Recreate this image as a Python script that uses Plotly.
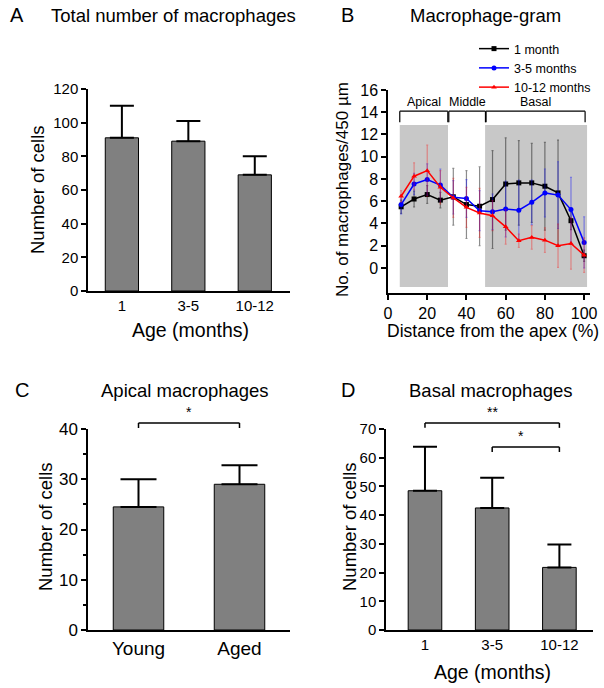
import plotly.graph_objects as go

# panel A - total macrophages
age_groups = ["1", "3-5", "10-12"]
total_mean = [91, 89, 69]
total_err = [19, 12, 11]

# panel B - macrophage-gram (distance from apex, %)
distance = [6.7, 13.3, 20, 26.7, 33.3, 40, 46.7, 53.3, 60, 66.7, 73.3, 80, 86.7, 93.3, 100]
gram_1m = [5.5, 6.2, 6.6, 6.1, 6.4, 5.7, 5.55, 6.15, 7.55, 7.65, 7.65, 7.35, 6.75, 4.25, 1.1]
gram_1m_err = [0.6, 0.7, 0.8, 0.7, 2.55, 3.05, 3.55, 4.4, 4.15, 3.8, 3.55, 3.95, 4.75, 0.8, 0.5]
gram_35m = [5.7, 7.55, 7.95, 7.45, 6.35, 6.25, 5.15, 5.05, 5.3, 5.2, 5.9, 6.75, 6.55, 5.25, 2.3]
gram_35m_err = [0.85, 0.95, 1.4, 1.45, 1.5, 1.7, 1.8, 1.6, 2.5, 2.7, 2.0, 2.15, 3.0, 2.9, 2.3]
gram_1012m = [6.45, 8.25, 8.75, 7.25, 6.3, 5.45, 4.95, 4.7, 3.7, 2.45, 2.75, 2.5, 2.0, 2.2, 1.15]
gram_1012m_err = [0.5, 1.2, 2.3, 1.5, 1.75, 1.8, 2.2, 1.35, 1.55, 0.6, 1.05, 1.1, 1.95, 2.3, 1.55]
regions = ["Apical", "Middle", "Basal"]
region_start = [6, 31, 50]
region_end = [30.5, 49.7, 100.5]
shade_x = [(6, 30.6), (49.5, 101.5)]

# panel C - apical macrophages
apical_groups = ["Young", "Aged"]
apical_mean = [24.5, 29]
apical_err = [5.5, 3.8]

# panel D - basal macrophages
basal_mean = [48.5, 42.5, 21.8]
basal_err = [15.3, 10.5, 8.0]

FONT = "Liberation Sans, Arial, sans-serif"
W, H = 604, 688


def px_x(p):
    return p / W


def px_y(p):
    return 1 - p / H


fig = go.Figure()

bar_style = dict(marker=dict(color="#808080", line=dict(color="black", width=1)),
                 width=0.5, showlegend=False, hoverinfo="skip")


def up_err(vals, w):
    return dict(type="data", array=vals, arrayminus=[0] * len(vals), symmetric=False,
                color="black", thickness=2, width=w)


fig.add_trace(go.Bar(x=age_groups, y=total_mean, error_y=up_err(total_err, 12),
                     xaxis="x", yaxis="y", **bar_style))
fig.add_trace(go.Bar(x=apical_groups, y=apical_mean, error_y=up_err(apical_err, 18),
                     xaxis="x3", yaxis="y3", **bar_style))
fig.add_trace(go.Bar(x=age_groups, y=basal_mean, error_y=up_err(basal_err, 12),
                     xaxis="x4", yaxis="y4", **bar_style))

series = [
    ("1 month", gram_1m, gram_1m_err, "black", "rgba(0,0,0,0.45)", "square"),
    ("3-5 months", gram_35m, gram_35m_err, "blue", "rgba(0,0,255,0.4)", "circle"),
    ("10-12 months", gram_1012m, gram_1012m_err, "red", "rgba(255,0,0,0.35)", "triangle-up"),
]
for name, vals, errs, col, ecol, sym in series:
    fig.add_trace(go.Scatter(
        x=distance, y=vals, name=name, mode="lines+markers",
        line=dict(color=col, width=1.5),
        marker=dict(color=col, size=5, symbol=sym),
        error_y=dict(type="data", array=errs, color=ecol, thickness=1.2, width=1),
        xaxis="x2", yaxis="y2"))

axis_common = dict(showline=True, linecolor="black", linewidth=1.5, ticks="outside",
                   tickcolor="black", ticklen=5, tickwidth=1.5, showgrid=False,
                   zeroline=False, mirror=False, automargin=False)
cat_axis = {k: v for k, v in axis_common.items() if k != "ticks"}

r_a = [-0.51, 2.53]
r_c = [-0.5, 1.5]
r_d = [-0.58, 2.5]
yr_c = [0, 40]
yr_d = [0, 70]

fig.update_layout(
    width=W, height=H, margin=dict(l=0, r=0, t=0, b=0, autoexpand=False),
    plot_bgcolor="white", paper_bgcolor="white",
    font=dict(family=FONT, color="black"),
    xaxis=dict(domain=[px_x(88), px_x(290)], anchor="y", range=r_a, ticks="",
               tickfont=dict(size=15), **cat_axis),
    yaxis=dict(domain=[px_y(291), px_y(89)], anchor="x", range=[0, 120], dtick=20,
               tickfont=dict(size=15), **axis_common),
    xaxis2=dict(domain=[px_x(388), px_x(590)], anchor="y2", range=[0, 103], dtick=20,
                tickfont=dict(size=16), **axis_common),
    yaxis2=dict(domain=[px_y(293), px_y(90)], anchor="x2", range=[-2.25, 16],
                tickvals=list(range(0, 17, 2)), tickfont=dict(size=16), **axis_common),
    xaxis3=dict(domain=[px_x(88), px_x(290)], anchor="y3", range=r_c, ticks="",
                tickfont=dict(size=19), **cat_axis),
    yaxis3=dict(domain=[px_y(630), px_y(429)], anchor="x3", range=yr_c, dtick=10,
                tickfont=dict(size=17), minor=dict(dtick=5, ticks="outside", ticklen=3,
                                                   tickcolor="black"), **axis_common),
    xaxis4=dict(domain=[px_x(386), px_x(593)], anchor="y4", range=r_d, ticks="",
                tickfont=dict(size=15), **cat_axis),
    yaxis4=dict(domain=[px_y(630), px_y(429)], anchor="x4", range=yr_d, dtick=10,
                tickfont=dict(size=15), **axis_common),
    legend=dict(x=px_x(596), y=px_y(34), xanchor="right", yanchor="top",
                font=dict(size=12.5), bgcolor="rgba(0,0,0,0)", tracegroupgap=0,
                itemwidth=30),
)

# shaded regions in panel B
for x0, x1 in shade_x:
    fig.add_shape(type="rect", xref="x2", yref="y2", x0=x0, x1=x1, y0=-1.7, y1=12.85,
                  fillcolor="#c8c8c8", line=dict(width=0), layer="below")

# region brackets in panel B
for name, a, b in zip(regions, region_start, region_end):
    for seg in [(a, 14.1, b, 14.1), (a, 14.1, a, 13.1), (b, 14.1, b, 13.1)]:
        fig.add_shape(type="line", xref="x2", yref="y2", x0=seg[0], y0=seg[1],
                      x1=seg[2], y1=seg[3], line=dict(color="black", width=1.2))
    fig.add_annotation(x=(a + b) / 2, y=14.1, xref="x2", yref="y2", text=name,
                       showarrow=False, yanchor="bottom",
                       font=dict(size=12.5, color="black"))


def dom(v, r):
    return (v - r[0]) / (r[1] - r[0])


def bracket(xa, ya, i0, i1, y, drop, rx, ry, label):
    xr, yr = xa + " domain", ya + " domain"
    x0, x1 = dom(i0, rx), dom(i1, rx)
    yt, yb = dom(y, ry), dom(y - drop, ry)
    for seg in [(x0, yt, x1, yt), (x0, yt, x0, yb), (x1, yt, x1, yb)]:
        fig.add_shape(type="line", xref=xr, yref=yr, x0=seg[0], y0=seg[1],
                      x1=seg[2], y1=seg[3], line=dict(color="black", width=1.5))
    fig.add_annotation(x=(x0 + x1) / 2, y=yt, xref=xr, yref=yr, text=label,
                       showarrow=False, yanchor="bottom", yshift=1,
                       font=dict(size=14, color="black"))


bracket("x3", "y3", 0, 1, 41.2, 1.0, r_c, yr_c, "*")
bracket("x4", "y4", 0, 2, 72.1, 1.7, r_d, yr_d, "**")
bracket("x4", "y4", 1, 2, 63.7, 1.7, r_d, yr_d, "*")

# titles and axis titles
texts = [
    ("A", 17, 15, 20, 0), ("Total number of macrophages", 174, 15, 18.5, 0),
    ("B", 348, 15, 20, 0), ("Macrophage-gram", 485, 15, 18.5, 0),
    ("C", 22, 390, 20, 0), ("Apical macrophages", 185, 390, 18.5, 0),
    ("D", 348, 390, 20, 0), ("Basal macrophages", 491, 390, 18.5, 0),
    ("Number of cells", 37, 190, 18.5, -90), ("Age (months)", 190, 330, 19.5, 0),
    ("No. of macrophages/450 µm", 342, 190, 17, -90),
    ("Distance from the apex (%)", 493, 331, 17.5, 0),
    ("Number of cells", 45, 527, 18.5, -90),
    ("Number of cells", 349, 527, 18.5, -90), ("Age (months)", 492, 672, 19.5, 0),
]
for t, x, y, s, ang in texts:
    fig.add_annotation(x=px_x(x), y=px_y(y), xref="paper", yref="paper", text=t,
                       showarrow=False, textangle=ang, xanchor="center", yanchor="middle",
                       font=dict(size=s, color="black"))

# the page body has a default 8px margin; remove it so the figure fills the window
fig.write_html("out.html", config={"displayModeBar": False},
               post_script="document.body.style.margin='0';document.body.style.overflow='hidden';")
